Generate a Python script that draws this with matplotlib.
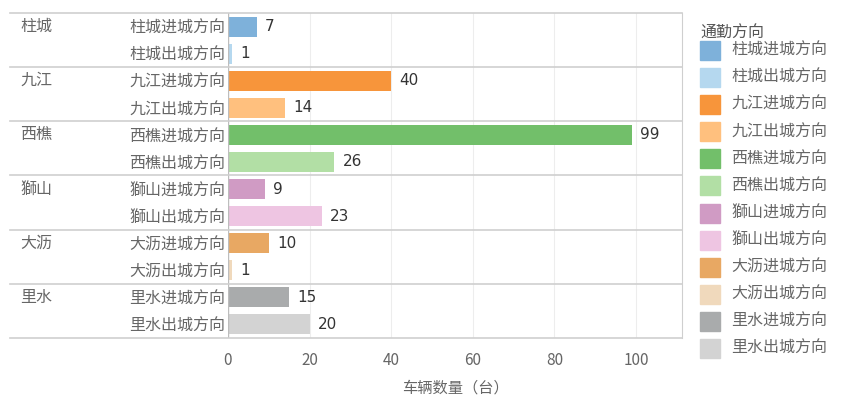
import matplotlib
matplotlib.use("Agg")
import matplotlib.pyplot as plt
from matplotlib.patches import Rectangle
import matplotlib.transforms as mtransforms

plt.rcParams['font.family'] = ['Noto Sans CJK SC', 'DejaVu Sans']

groups = ["柱城", "九江", "西樵", "獅山", "大沥", "里水"]
labels = ["柱城进城方向", "柱城出城方向", "九江进城方向", "九江出城方向",
          "西樵进城方向", "西樵出城方向", "獅山进城方向", "獅山出城方向",
          "大沥进城方向", "大沥出城方向", "里水进城方向", "里水出城方向"]
values = [7, 1, 40, 14, 99, 26, 9, 23, 10, 1, 15, 20]
colors = ["#7EB1DA", "#B5D8EF", "#F7953B", "#FFC07E", "#72BF6A", "#B2DFA5",
          "#D09BC4", "#EEC5E2", "#E8A863", "#F0D9BC", "#A9ABAC", "#D3D3D3"]
xticks = [0, 20, 40, 60, 80, 100]
legend_title = "通勤方向"
xlabel = "车辆数量（台）"

W, H = 841, 411
fig = plt.figure(figsize=(W / 100, H / 100), dpi=100)
L, R, T, B = 228, 682, 13, 338
ax = fig.add_axes([L / W, 1 - B / H, (R - L) / W, (B - T) / H])

n = len(values)
ypos = [i + 0.5 for i in range(n)]
ax.barh(ypos, values, height=0.74, color=colors, zorder=3)
ax.set_ylim(n, 0)
ax.set_xlim(0, (R - L) / 4.08)

for y, v in zip(ypos, values):
    ax.annotate(str(v), (v, y), xytext=(6, 0), textcoords="offset points",
                va="center", ha="left", fontsize=11, color="#333333",
                family=['DejaVu Sans'])

ax.set_yticks(ypos)
ax.set_yticklabels(labels, fontsize=11.5, color="#666666")
ax.tick_params(axis="y", length=0, pad=2)
ax.set_xticks(xticks)
ax.set_xticklabels([str(t) for t in xticks], fontsize=11, color="#666666")
ax.tick_params(axis="x", length=0, pad=10)
ax.grid(axis="x", color="#EDEDED", linewidth=0.8, zorder=0)

for s in ["top", "bottom", "left"]:
    ax.spines[s].set_visible(False)
ax.spines["right"].set_color("#CFCFCF")
ax.axvline(0, color="#BDBDBD", linewidth=1, zorder=4)

# group separators and labels
xmin_ax = (10 - L) / (R - L)
for g in range(len(groups) + 1):
    ax.axhline(g * 2, xmin=xmin_ax, xmax=1, color="#CFCFCF", linewidth=1.2,
               clip_on=False, zorder=5)
trans = mtransforms.blended_transform_factory(fig.transFigure, ax.transData)
for g, name in enumerate(groups):
    ax.text(20 / W, g * 2 + 0.5, name, transform=trans, ha="left", va="center",
            fontsize=11.5, color="#666666")

ax.set_xlabel(xlabel, fontsize=11, color="#666666", labelpad=8)

# legend
fig.text(700 / W, 1 - 33 / H, legend_title, ha="left", va="center",
         fontsize=11.5, color="#555555")
for i, (lab, c) in enumerate(zip(labels, colors)):
    yc = 50.5 + i * 27.1
    fig.patches.append(Rectangle((700 / W, 1 - (yc + 9.5) / H), 19.5 / W, 19 / H,
                                 transform=fig.transFigure, color=c))
    fig.text(731 / W, 1 - yc / H, lab, ha="left", va="center",
             fontsize=11.5, color="#666666")

fig.savefig("out.png", dpi=100)
